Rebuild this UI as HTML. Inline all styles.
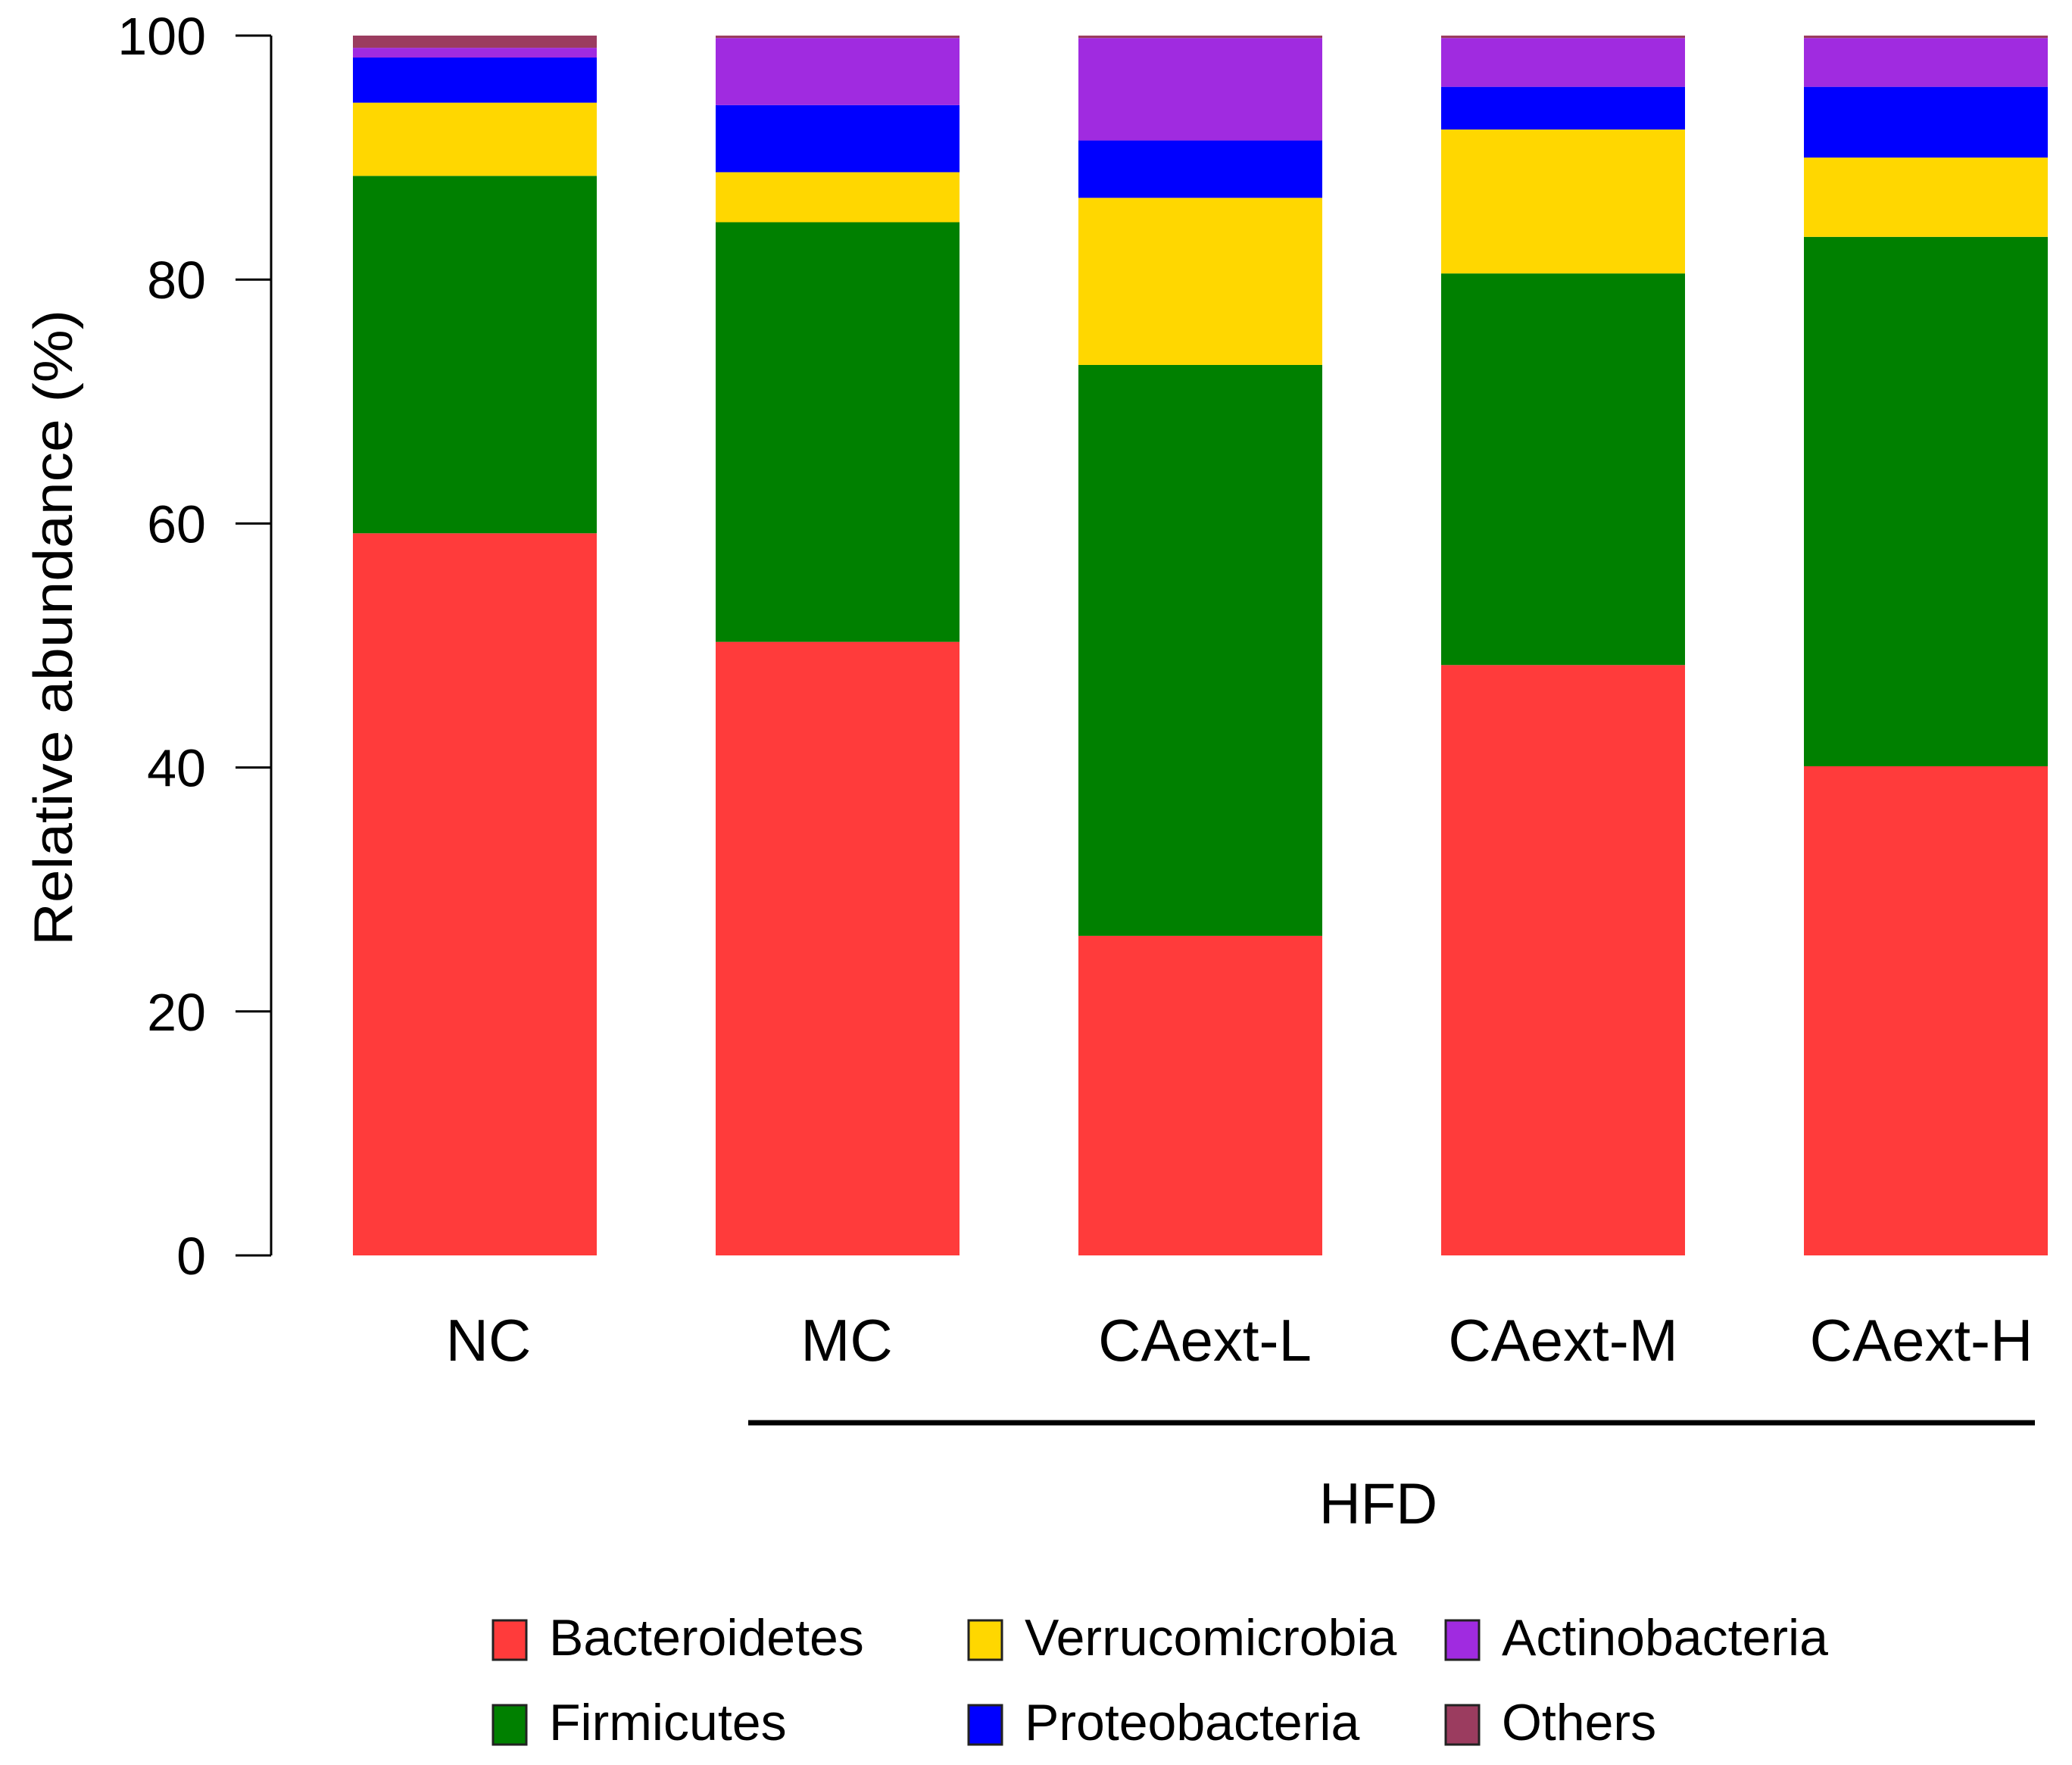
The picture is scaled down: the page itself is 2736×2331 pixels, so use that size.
<!DOCTYPE html>
<html><head><meta charset="utf-8"><style>
html,body{margin:0;padding:0;background:#fff;}
svg{display:block;font-family:"Liberation Sans",sans-serif;}
</style></head><body>
<svg id="chart" width="2736" height="2331" viewBox="0 0 2736 2331" xmlns="http://www.w3.org/2000/svg">
<g id="axis"></g>
<g id="bars"></g>
<g id="xlabels"></g>
<text x="0" y="0" transform="translate(95,829) rotate(-90)" text-anchor="middle" font-size="72" fill="#000" textLength="840" lengthAdjust="spacingAndGlyphs">Relative abundance (%)</text>
<line x1="988" y1="1879" x2="2687" y2="1879" stroke="#000" stroke-width="7"/>
<text x="1820" y="2012" text-anchor="middle" font-size="76" fill="#000">HFD</text>
<g id="legend"></g>
</svg>
<script>
const categories = ["NC","MC","CAext-L","CAext-M","CAext-H"];
const seriesNames = ["Bacteroidetes","Firmicutes","Verrucomicrobia","Proteobacteria","Actinobacteria","Others"];
const bacteroidetes = [59.2,50.3,26.2,48.4,40.1];
const firmicutes = [29.3,34.4,46.8,32.1,43.4];
const verrucomicrobia = [6.0,4.1,13.7,11.8,6.5];
const proteobacteria = [3.7,5.5,4.7,3.5,5.8];
const actinobacteria = [0.8,5.5,8.4,4.0,4.0];
const others = [1.0,0.2,0.2,0.2,0.2];
const yTicks = [0,20,40,60,80,100];

const series = [bacteroidetes,firmicutes,verrucomicrobia,proteobacteria,actinobacteria,others];
const colors = ["#FF3B3B","#008000","#FFD700","#0000FF","#A02BE0","#9B3C5F"];
const NS="http://www.w3.org/2000/svg";
const y0=1658, y100=47;
function yScale(v){return y0-(y0-y100)*v/100;}
const barLeft0=466, barStep=479, barW=322;
function xScale(i){return barLeft0+i*barStep;}
function mk(tag,attrs,parent){const e=document.createElementNS(NS,tag);for(const k in attrs)e.setAttribute(k,attrs[k]);parent.appendChild(e);return e;}

const axis=document.getElementById('axis');
const al=mk('line',{x1:358,y1:y100,x2:358,y2:y0,stroke:'#000','stroke-width':3},axis);


yTicks.forEach(t=>{
  const tl=mk('line',{x1:311,y1:yScale(t),x2:358,y2:yScale(t),stroke:'#000','stroke-width':3},axis);
  
  
  const tx=mk('text',{x:272,y:yScale(t)+25,'text-anchor':'end','font-size':70,fill:'#000'},axis);
  
  
  tx.textContent=t;
});

const bars=document.getElementById('bars');
const xl=document.getElementById('xlabels');
categories.forEach((c,i)=>{
  let cum=0;
  series.forEach((s,j)=>{
    const top=yScale(cum+s[i]), bot=yScale(cum);
    const r=mk('rect',{x:xScale(i),y:top,width:barW,height:Math.max(0,bot-top),fill:colors[j]},bars);
    
    
    cum+=s[i];
  });
  const t=mk('text',{x:xScale(i)+barW/2+18-i*6,y:1797,'text-anchor':'middle','font-size':78,fill:'#000'},xl);
  
  
  t.textContent=c;
});

const legend=document.getElementById('legend');
const legCols=[651,1279,1909], legRows=[2140,2252];
const order=[0,2,4,1,3,5];
order.forEach((si,k)=>{
  const col=k%3, row=Math.floor(k/3);
  const x=legCols[col], y=legRows[row];
  const g=mk('g',{},legend);
  
  
  const r=mk('rect',{x:x,y:y,width:44,height:52,fill:colors[si],stroke:'#222','stroke-width':3},g);
  
  
  const t=mk('text',{x:x+74,y:y+46,'font-size':68,fill:'#000'},g);
  
  
  t.textContent=seriesNames[si];
});
</script>
</body></html>
